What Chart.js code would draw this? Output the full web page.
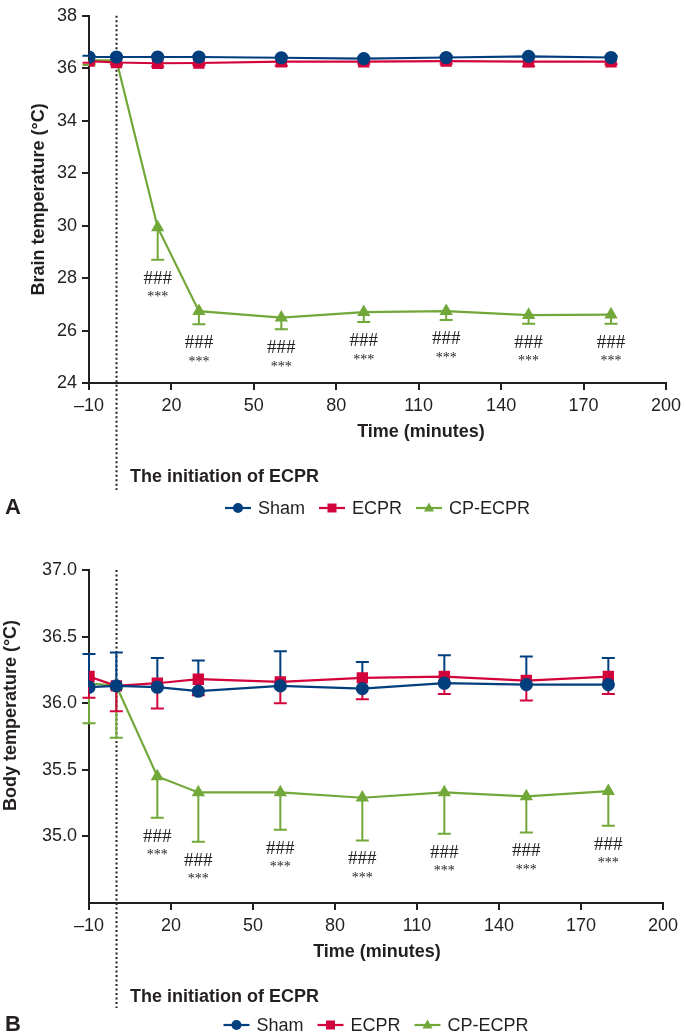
<!DOCTYPE html>
<html>
<head>
<meta charset="utf-8">
<script src="https://cdn.jsdelivr.net/npm/chart.js@4.4.1/dist/chart.umd.min.js"></script>
<style>
  body { margin: 0; background: #fff; }
  .panel { position: absolute; left: 0; width: 686px; }
</style>
</head>
<body>
<div class="panel" style="top:0;height:520px"><canvas id="brainChart"></canvas></div>
<div class="panel" style="top:520px;height:515px"><canvas id="bodyChart"></canvas></div>
<script>
// Time points (minutes) and axis ticks
const times = [-10, 0, 15, 30, 60, 90, 120, 150, 180];
const xTicks = [-10, 20, 50, 80, 110, 140, 170, 200];
const seriesNames = ['Sham', 'ECPR', 'CP-ECPR'];
const seriesColors = ['#003e7e', '#d2043b', '#72a83a'];
const seriesMarkers = ['circle', 'rect', 'triangle'];
const errDirs = [1, -1, -1]; // sham bars go up, the others go down

// A: brain temperature
const brainTicks = [24, 26, 28, 30, 32, 34, 36, 38];
const brainSham = [36.43, 36.43, 36.43, 36.43, 36.40, 36.37, 36.41, 36.45, 36.41];
const brainShamErr = [0.05, 0.05, 0.05, 0.05, 0.05, 0.05, 0.05, 0.05, 0.05];
const brainEcpr = [36.27, 36.22, 36.19, 36.20, 36.25, 36.25, 36.27, 36.25, 36.25];
const brainEcprErr = [0.06, 0.08, 0.12, 0.08, 0.15, 0.08, 0.10, 0.17, 0.10];
const brainCp = [36.30, 36.30, 29.93, 26.74, 26.49, 26.70, 26.74, 26.59, 26.61];
const brainCpErr = [0.18, 0.12, 1.23, 0.50, 0.44, 0.37, 0.34, 0.33, 0.35];

// B: body temperature
const bodyTicks = [35.0, 35.5, 36.0, 36.5, 37.0];
const bodySham = [36.12, 36.13, 36.12, 36.09, 36.13, 36.11, 36.15, 36.14, 36.14];
const bodyShamErr = [0.25, 0.25, 0.22, 0.23, 0.26, 0.20, 0.21, 0.21, 0.20];
const bodyEcpr = [36.20, 36.13, 36.15, 36.18, 36.16, 36.19, 36.20, 36.17, 36.20];
const bodyEcprErr = [0.16, 0.19, 0.19, 0.12, 0.16, 0.16, 0.13, 0.15, 0.13];
const bodyCp = [36.15, 36.13, 35.45, 35.33, 35.33, 35.29, 35.33, 35.30, 35.34];
const bodyCpErr = [0.30, 0.39, 0.31, 0.37, 0.28, 0.32, 0.31, 0.27, 0.26];

// significance marks under CP-ECPR
const markTimes = [15, 30, 60, 90, 120, 150, 180];
const markTop = '###';
const markBottom = '***';

const ink = '#231f20';
const sans = '"Liberation Sans", Arial, sans-serif';
const serif = '"Liberation Serif", "Times New Roman", serif';

function makeDataset(i, values, errs) {
    return {
        label: seriesNames[i],
        data: times.map((t, k) => ({ x: t, y: values[k] })),
        err: errs,
        errDir: errDirs[i],
        borderColor: seriesColors[i],
        backgroundColor: seriesColors[i],
        borderWidth: 2.2,
        pointStyle: seriesMarkers[i],
        pointRadius: i === 1 ? 6.5 : 5.5,
        pointHoverRadius: i === 1 ? 6.5 : 5.5,
        tension: 0
    };
}

function drawMarker(ctx, style, x, y, color) {
    ctx.fillStyle = color;
    ctx.beginPath();
    if (style === 'circle') {
        ctx.arc(x, y, 5, 0, Math.PI * 2);
    } else if (style === 'rect') {
        ctx.rect(x - 4.5, y - 4.5, 9, 9);
    } else {
        ctx.moveTo(x, y - 5.5);
        ctx.lineTo(x + 5, y + 3.5);
        ctx.lineTo(x - 5, y + 3.5);
        ctx.closePath();
    }
    ctx.fill();
}

const decorPlugin = {
    id: 'decor',
    beforeDatasetsDraw(chart, args, opts) {
        const { ctx, chartArea, scales: { x, y } } = chart;
        // dotted line: start of ECPR
        const x0 = Math.round(x.getPixelForValue(0)) + 0.5;
        ctx.save();
        ctx.strokeStyle = ink;
        ctx.lineWidth = 2;
        ctx.setLineDash([2, 2.5]);
        ctx.beginPath();
        ctx.moveTo(x0, chartArea.top);
        ctx.lineTo(x0, opts.dotBottom);
        ctx.stroke();
        ctx.restore();

        // error bars
        ctx.save();
        ctx.lineWidth = 2;
        for (let d = chart.data.datasets.length - 1; d >= 0; d--) {
            const ds = chart.data.datasets[d];
            ctx.strokeStyle = ds.borderColor;
            ds.data.forEach((p, k) => {
                const px = x.getPixelForValue(p.x);
                const py0 = y.getPixelForValue(p.y);
                const py1 = y.getPixelForValue(p.y + ds.errDir * ds.err[k]);
                ctx.beginPath();
                ctx.moveTo(px, py0);
                ctx.lineTo(px, py1);
                ctx.moveTo(px - 6.5, py1);
                ctx.lineTo(px + 6.5, py1);
                ctx.stroke();
            });
        }
        ctx.restore();
    },
    afterDraw(chart, args, opts) {
        const { ctx, chartArea, scales: { x, y } } = chart;
        ctx.save();
        ctx.fillStyle = ink;

        // significance marks
        const cp = chart.data.datasets[2];
        ctx.textAlign = 'center';
        ctx.textBaseline = 'middle';
        markTimes.forEach(t => {
            const k = times.indexOf(t);
            const px = x.getPixelForValue(t);
            const py = y.getPixelForValue(cp.data[k].y - cp.err[k]);
            ctx.font = '19px ' + serif;
            ctx.fillText(markTop, px, py + 19);
            ctx.font = '14px ' + serif;
            ctx.fillText(markBottom, px, py + 38);
        });

        // axis titles
        ctx.font = 'bold 18px ' + sans;
        ctx.fillText('Time (minutes)', opts.xTitleX, opts.xTitleY);
        ctx.save();
        ctx.translate(opts.yTitleX, (chartArea.top + chartArea.bottom) / 2 + opts.yTitleShift);
        ctx.rotate(-Math.PI / 2);
        ctx.fillText(opts.yTitle, 0, 0);
        ctx.restore();

        ctx.textAlign = 'left';
        ctx.fillText('The initiation of ECPR', 130, opts.noteY);

        // panel letter
        ctx.font = 'bold 22px ' + sans;
        ctx.fillText(opts.letter, 5, opts.legendY);

        // legend
        ctx.font = '18px ' + sans;
        const lineLen = 26, gap = 7, spacing = 14;
        const widths = seriesNames.map(n => ctx.measureText(n).width);
        const total = widths.reduce((a, w) => a + lineLen + gap + w, 0) + spacing * (seriesNames.length - 1);
        let lx = (chartArea.left + chartArea.right) / 2 - total / 2;
        const ly = opts.legendY;
        seriesNames.forEach((n, i) => {
            ctx.strokeStyle = seriesColors[i];
            ctx.lineWidth = 2.2;
            ctx.beginPath();
            ctx.moveTo(lx, ly);
            ctx.lineTo(lx + lineLen, ly);
            ctx.stroke();
            drawMarker(ctx, seriesMarkers[i], lx + lineLen / 2, ly, seriesColors[i]);
            ctx.fillStyle = ink;
            ctx.fillText(n, lx + lineLen + gap, ly + 1);
            lx += lineLen + gap + widths[i] + spacing;
        });
        ctx.restore();
    }
};

function makeChart(id, cfg) {
    return new Chart(document.getElementById(id), {
        type: 'line',
        data: { datasets: cfg.datasets },
        options: {
            responsive: true,
            maintainAspectRatio: false,
            animation: false,
            events: [],
            layout: { padding: { top: cfg.padTop, right: cfg.padRight, bottom: cfg.padBottom, left: 0 } },
            plugins: {
                legend: { display: false },
                tooltip: { enabled: false },
                decor: cfg.decor
            },
            scales: {
                x: {
                    type: 'linear',
                    min: -10,
                    max: 200,
                    afterBuildTicks: s => { s.ticks = xTicks.map(v => ({ value: v })); },
                    afterFit: s => { s.height = 40; },
                    ticks: {
                        autoSkip: false,
                        maxRotation: 0,
                        padding: 5,
                        color: ink,
                        font: { family: sans, size: 18 },
                        callback: v => v < 0 ? '\u2013' + (-v) : String(v)
                    },
                    grid: { drawOnChartArea: false, drawTicks: true, tickLength: 7, color: ink, lineWidth: 2 },
                    border: { color: ink, width: 2 }
                },
                y: {
                    min: cfg.yMin,
                    max: cfg.yMax,
                    afterBuildTicks: s => { s.ticks = cfg.yTicks.map(v => ({ value: v })); },
                    afterFit: s => { s.width = 89; },
                    ticks: {
                        padding: 5,
                        color: ink,
                        font: { family: sans, size: 18 },
                        callback: cfg.yFormat
                    },
                    grid: { drawOnChartArea: false, drawTicks: true, tickLength: 7, color: ink, lineWidth: 2 },
                    border: { color: ink, width: 2 }
                }
            }
        },
        plugins: [decorPlugin]
    });
}

makeChart('brainChart', {
    datasets: [
        makeDataset(0, brainSham, brainShamErr),
        makeDataset(1, brainEcpr, brainEcprErr),
        makeDataset(2, brainCp, brainCpErr)
    ],
    padTop: 10, padRight: 15, padBottom: 520 - 383 - 40,
    yMin: 24, yMax: 38, yTicks: brainTicks,
    yFormat: v => String(v),
    decor: {
        letter: 'A', yTitle: 'Brain temperature (\u00B0C)', yTitleX: 39, yTitleShift: 0,
        xTitleX: 421, xTitleY: 432, noteY: 477, legendY: 508, dotBottom: 490
    }
});

makeChart('bodyChart', {
    datasets: [
        makeDataset(0, bodySham, bodyShamErr),
        makeDataset(1, bodyEcpr, bodyEcprErr),
        makeDataset(2, bodyCp, bodyCpErr)
    ],
    padTop: 50, padRight: 23, padBottom: 515 - 383 - 40,
    yMin: 34.5, yMax: 37, yTicks: bodyTicks,
    yFormat: v => v.toFixed(1),
    decor: {
        letter: 'B', yTitle: 'Body temperature (\u00B0C)', yTitleX: 11, yTitleShift: -21,
        xTitleX: 377, xTitleY: 432, noteY: 477, legendY: 505, dotBottom: 488
    }
});
</script>
</body>
</html>
